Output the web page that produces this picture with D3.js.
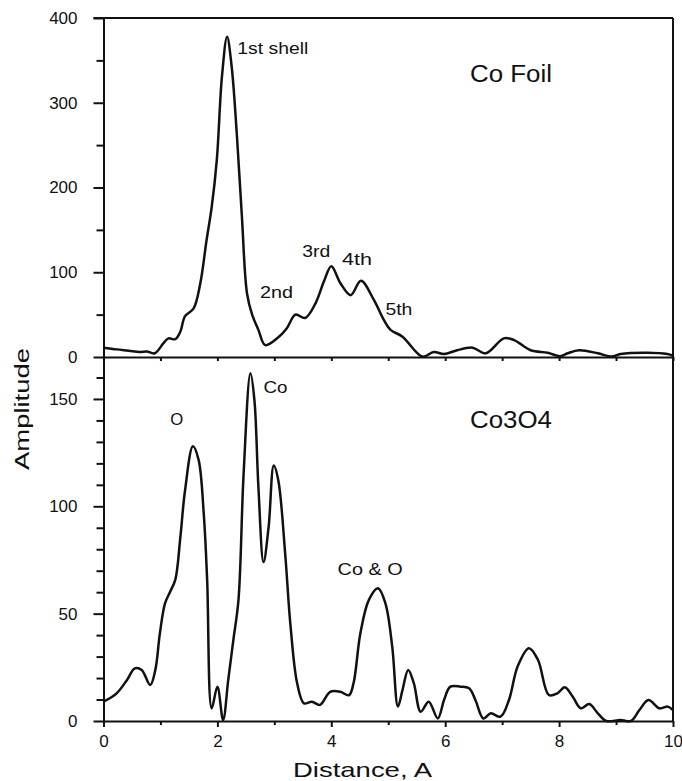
<!DOCTYPE html>
<html>
<head>
<meta charset="utf-8">
<script src="https://cdn.jsdelivr.net/npm/d3@7"></script>
<style>
body { margin: 0; background: #fff; }
text { font-family: "Liberation Sans", Arial, Helvetica, sans-serif; fill: #111; }
</style>
</head>
<body>
<script>
// Co foil transform (top panel)
var foilX = [0, 0.23, 0.44, 0.64, 0.76, 0.9, 1.05, 1.14, 1.26, 1.35, 1.43, 1.58, 1.70, 1.81, 1.90, 1.99,
  2.08, 2.17, 2.25, 2.34, 2.43, 2.52, 2.61, 2.72, 2.84, 3.05, 3.22, 3.37, 3.54, 3.72, 3.87, 4.0,
  4.16, 4.34, 4.52, 4.75, 4.92, 5.04, 5.25, 5.6, 5.8, 5.98, 6.21, 6.48, 6.71, 7.03, 7.21, 7.5,
  7.8, 8.02, 8.15, 8.35, 8.68, 8.92, 9.08, 9.55, 9.9, 10];
var foilY = [11, 9, 7.5, 6, 6.5, 4.4, 16, 22, 21, 30, 48, 57, 87, 138, 177, 233,
  331, 378, 343, 264, 166, 75, 50, 32, 14, 22, 34, 50, 46, 63, 89, 107,
  87, 73, 90, 67, 44, 32, 24, 0.5, 6, 3.5, 8, 11, 4.3, 22, 20, 8,
  5, 1, 4.4, 8, 4.4, 0.5, 3.5, 5, 3.5, 1.5];

// Co3O4 transform (bottom panel)
var oxideX = [0, 0.23, 0.41, 0.55, 0.67, 0.82, 0.91, 0.99, 1.08, 1.17, 1.26, 1.35, 1.43, 1.57, 1.67, 1.76,
  1.82, 1.90, 2.0, 2.10, 2.19, 2.28, 2.37, 2.46, 2.58, 2.65, 2.72, 2.81, 2.90, 2.99, 3.07, 3.19,
  3.28, 3.40, 3.52, 3.66, 3.80, 3.98, 4.16, 4.31, 4.39, 4.51, 4.66, 4.82, 4.95, 5.07, 5.17, 5.25,
  5.35, 5.45, 5.57, 5.71, 5.87, 5.98, 6.09, 6.27, 6.42, 6.53, 6.67, 6.80, 6.97, 7.12, 7.27, 7.47,
  7.63, 7.82, 7.97, 8.10, 8.24, 8.38, 8.53, 8.68, 8.83, 9.08, 9.26, 9.41, 9.57, 9.76, 9.91, 10];
var oxideY = [9, 12.9, 19, 24.5, 23.8, 16.8, 23.8, 40.8, 54.8, 60.2, 65.7, 85.8, 107, 128, 121.6, 96.7,
  65.7, 5.9, 16, 0.5, 19, 37.7, 56.4, 115, 162, 149.5, 109, 74, 90.5, 119, 112, 78,
  45.5, 17.6, 8.2, 9, 7.5, 13.6, 13.6, 12, 17.5, 40.8, 56.4, 61.8, 54.8, 34.6, 6.7, 14.4,
  23.8, 17.5, 4.3, 9, 1.2, 9.8, 16, 16, 15.2, 9.8, 1.2, 3.6, 2, 9.8, 25.3, 33.9,
  28.4, 12.1, 12.9, 15.7, 11.3, 5.9, 7.9, 3.6, 0, 0.5, 0, 5.1, 9.8, 5.9, 6.7, 5.1];

var xTicks = d3.range(0, 11, 1);
var foilTicks = d3.range(0, 401, 50);
var oxideTicks = d3.range(0, 161, 10);

// peak labels: text, x, y (data units)
var foilLabels = ["1st shell", "2nd", "3rd", "4th", "5th"];
var foilLabelX = [2.35, 2.75, 3.49, 4.19, 4.95];
var foilLabelY = [357, 70, 118, 109, 50];
var oxideLabels = ["O", "Co", "Co & O"];
var oxideLabelX = [1.17, 2.81, 4.11];
var oxideLabelY = [138, 153, 68];

var W = 682, H = 781;
var pLeft = 103.5, pRight = 673, pTop = 18, pMid = 357, pBottom = 721;

var svg = d3.select("body").append("svg")
    .attr("width", W)
    .attr("height", H);

var x = d3.scaleLinear().domain([0, 10]).range([pLeft, pRight]);
var yTop = d3.scaleLinear().domain([0, 400]).range([pMid, pTop]);
var yBot = d3.scaleLinear().domain([0, (pBottom - pMid) / 2.147]).range([pBottom, pMid]);

function styleAxis(g) {
  g.select(".domain").attr("stroke", "#111").attr("stroke-width", 2);
  g.selectAll(".tick line").attr("stroke", "#111").attr("stroke-width", 2);
  g.selectAll(".tick text").style("font-size", "17px").attr("fill", "#111");
}

// left axes
var gTop = svg.append("g")
    .attr("transform", "translate(" + pLeft + ",0)")
    .call(d3.axisLeft(yTop).tickValues(foilTicks).tickSize(10).tickSizeOuter(0).tickPadding(16)
      .tickFormat(function(d) { return d % 100 === 0 ? d : ""; }));
gTop.selectAll(".tick line").attr("x2", function(d) { return d % 100 === 0 ? -10 : -7; });
styleAxis(gTop);

var gBot = svg.append("g")
    .attr("transform", "translate(" + pLeft + ",0)")
    .call(d3.axisLeft(yBot).tickValues(oxideTicks).tickSize(10).tickSizeOuter(0).tickPadding(16)
      .tickFormat(function(d) { return d % 50 === 0 ? d : ""; }));
gBot.selectAll(".tick line").attr("x2", function(d) { return d % 50 === 0 ? -10 : -7; });
styleAxis(gBot);

// bottom axis
var gX = svg.append("g")
    .attr("transform", "translate(0," + pBottom + ")")
    .call(d3.axisBottom(x).tickValues(xTicks).tickSize(6).tickSizeOuter(0).tickPadding(8)
      .tickFormat(function(d) { return d % 2 === 0 ? d : ""; }));
gX.selectAll(".tick line").attr("y2", function(d) { return d % 2 === 0 ? 6 : 4; });
styleAxis(gX);

// middle axis, no labels
var gMid = svg.append("g")
    .attr("transform", "translate(0," + pMid + ")")
    .call(d3.axisBottom(x).tickValues(xTicks).tickSize(4).tickSizeOuter(0).tickFormat(""));
styleAxis(gMid);

// frame: top and right
svg.append("line")
    .attr("x1", pLeft - 10).attr("x2", pRight)
    .attr("y1", pTop).attr("y2", pTop)
    .attr("stroke", "#111").attr("stroke-width", 2);
svg.append("line")
    .attr("x1", pRight).attr("x2", pRight)
    .attr("y1", pTop).attr("y2", pBottom)
    .attr("stroke", "#111").attr("stroke-width", 2);

// curves
var lineTop = d3.line()
    .x(function(d) { return x(d[0]); })
    .y(function(d) { return yTop(d[1]); })
    .curve(d3.curveCatmullRom.alpha(0.5));
var lineBot = d3.line()
    .x(function(d) { return x(d[0]); })
    .y(function(d) { return yBot(d[1]); })
    .curve(d3.curveCatmullRom.alpha(0.5));

svg.append("path")
    .datum(d3.zip(foilX, foilY))
    .attr("d", lineTop)
    .attr("fill", "none")
    .attr("stroke", "#111")
    .attr("stroke-width", 2.5)
    .attr("stroke-linejoin", "round");

svg.append("path")
    .datum(d3.zip(oxideX, oxideY))
    .attr("d", lineBot)
    .attr("fill", "none")
    .attr("stroke", "#111")
    .attr("stroke-width", 2.5)
    .attr("stroke-linejoin", "round");

// labels
function label(txt, px, py, size, len) {
  var t = svg.append("text")
      .attr("x", px).attr("y", py)
      .style("font-size", size + "px")
      .text(txt);
  if (len) t.attr("textLength", len).attr("lengthAdjust", "spacingAndGlyphs");
  return t;
}

var foilLen = [71, 33, 28, 30, 27];
foilLabels.forEach(function(t, i) {
  label(t, x(foilLabelX[i]), yTop(foilLabelY[i]), 17, foilLen[i]);
});
var oxideLen = [13, 24, 65];
oxideLabels.forEach(function(t, i) {
  label(t, x(oxideLabelX[i]), yBot(oxideLabelY[i]), 17, oxideLen[i]);
});

label("Co Foil", 470, 82, 23, 82);
label("Co3O4", 470, 428, 23, 82);

svg.append("text")
    .attr("transform", "translate(29,409) rotate(-90)")
    .attr("text-anchor", "middle")
    .attr("textLength", 122)
    .attr("lengthAdjust", "spacingAndGlyphs")
    .style("font-size", "21px")
    .text("Amplitude");

svg.append("text")
    .attr("x", 362.5)
    .attr("y", 777)
    .attr("text-anchor", "middle")
    .attr("textLength", 139)
    .attr("lengthAdjust", "spacingAndGlyphs")
    .style("font-size", "21px")
    .text("Distance, A");
</script>
</body>
</html>
